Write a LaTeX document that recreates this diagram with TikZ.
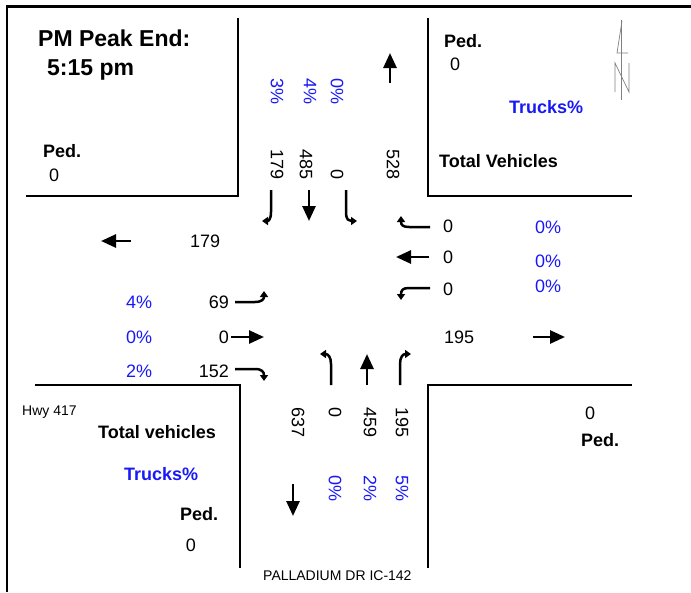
\documentclass[tikz,border=0pt]{standalone}
\usepackage{fontspec}
\setmainfont{Liberation Sans}
\usetikzlibrary{arrows.meta}
\definecolor{tblue}{RGB}{25,25,245}
\begin{document}
\begin{tikzpicture}[x=1pt,y=-1pt,
  t/.style={inner sep=0pt,font=\fontsize{18}{18}\selectfont},
  tb/.style={inner sep=0pt,font=\fontsize{18}{18}\selectfont\bfseries},
  big/.style={inner sep=0pt,font=\fontsize{23}{23}\selectfont\bfseries},
  small/.style={inner sep=0pt,font=\fontsize{14}{14}\selectfont},
  pct/.style={t,text=tblue},
  road/.style={line width=2.7pt},
  arr/.style={line width=2.7pt,-{Triangle[width=13pt,length=15pt]}},
  turn/.style={line width=2.5pt,-{Triangle[width=8pt,length=6pt]}},
  vr/.style={rotate=-90},
  narrow/.style={gray,line width=0.7pt}]
\useasboundingbox (0,0) rectangle (691,592);
% frame
\draw[road] (7,592) -- (7,6.5) -- (691,6.5);
% corners
\draw[road] (238,18) -- (238,196) -- (26,196);
\draw[road] (428,18) -- (428,196) -- (632,196);
\draw[road] (35,385) -- (240,385) -- (240,568);
\draw[road] (632,385) -- (428,385) -- (428,568);
% title
\node[big,anchor=west] (title) at (38,38) {PM Peak End:};
\node[big,anchor=west] (time) at (47,70) {5:15 pm};
\node[tb,anchor=west] (pedNW) at (43,151) {Ped.};
\node[t,anchor=west] (pedNWv) at (49,175) {0};
% NE
\node[tb,anchor=west] (pedNE) at (444,41) {Ped.};
\node[t,anchor=west] (pedNEv) at (450,64) {0};
\node[tb,anchor=west,text=tblue] (trNE) at (509,107) {Trucks\%};
\node[tb,anchor=west] (totNE) at (439,161) {Total Vehicles};
% north arrow
\draw[narrow] (621,20) -- (621,100);
\draw[narrow] (622,21) -- (617,53) -- (628,53);
\draw[narrow] (615,92) -- (615,63) -- (629,92) -- (629,63);
% north approach
\node[pct,vr,anchor=west] (nP1) at (277,78) {3\%};
\node[pct,vr,anchor=west] (nP2) at (310,78) {4\%};
\node[pct,vr,anchor=west] (nP3) at (337,78) {0\%};
\node[t,vr,anchor=east] (nV1) at (277,180) {179};
\node[t,vr,anchor=east] (nV2) at (306,180) {485};
\node[t,vr,anchor=east] (nV3) at (337,180) {0};
\node[t,vr,anchor=east] (nOut) at (393,180) {528};
\draw[arr] (390,83) -- (390,53);
\draw[turn] (271,190) -- (271,212) .. controls (271,220) and (268,221) .. (262,221);
\draw[arr] (309,190) -- (309,221);
\draw[turn] (346,190) -- (346,212) .. controls (346,220) and (349,221) .. (357,221);
% west outbound
\node[t,anchor=west] (wOut) at (190,241) {179};
\draw[arr] (131,241) -- (101,241);
% east approach
\node[t,anchor=west] (eV1) at (443,226) {0};
\node[t,anchor=west] (eV2) at (443,257) {0};
\node[t,anchor=west] (eV3) at (443,289) {0};
\node[pct,anchor=west] (eP1) at (535,227) {0\%};
\node[pct,anchor=west] (eP2) at (535,261) {0\%};
\node[pct,anchor=west] (eP3) at (535,286) {0\%};
\draw[turn] (430,227) -- (409,227) .. controls (403,227) and (401,225) .. (401,216);
\draw[arr] (429,257) -- (396,257);
\draw[turn] (430,288) -- (409,288) .. controls (403,288) and (401,290) .. (401,300);
% west approach
\node[pct,anchor=west] (wP1) at (126,302) {4\%};
\node[pct,anchor=west] (wP2) at (126,337) {0\%};
\node[pct,anchor=west] (wP3) at (126,371) {2\%};
\node[t,anchor=east] (wV1) at (229,302) {69};
\node[t,anchor=east] (wV2) at (229,337) {0};
\node[t,anchor=east] (wV3) at (229,371) {152};
\draw[turn] (235,302) -- (255,302) .. controls (262,302) and (264,299) .. (264,291);
\draw[arr] (231,337) -- (264,337);
\draw[turn] (235,369) -- (255,369) .. controls (262,369) and (264,372) .. (264,381);
% east outbound
\node[t,anchor=west] (eOut) at (444,337) {195};
\draw[arr] (533,337) -- (565,337);
% south approach
\draw[turn] (331,385) -- (331,364) .. controls (331,357) and (328,354) .. (320,354);
\draw[arr] (367,385) -- (367,354);
\draw[turn] (400,385) -- (400,364) .. controls (400,357) and (403,354) .. (411,354);
\node[t,vr,anchor=west] (sV1) at (335,407) {0};
\node[t,vr,anchor=west] (sV2) at (370,407) {459};
\node[t,vr,anchor=west] (sV3) at (402,407) {195};
\node[t,vr,anchor=west] (sOut) at (298,407) {637};
\node[pct,vr,anchor=west] (sP1) at (335,475) {0\%};
\node[pct,vr,anchor=west] (sP2) at (370,475) {2\%};
\node[pct,vr,anchor=west] (sP3) at (402,475) {5\%};
\draw[arr] (293,484) -- (293,516);
% SE
\node[t] (pedSEv) at (590,413) {0};
\node[tb,anchor=west] (pedSE) at (581,440) {Ped.};
% SW
\node[small,anchor=west] (hwy) at (22,412) {Hwy 417};
\node[tb,anchor=west] (totSW) at (98,432) {Total vehicles};
\node[tb,anchor=west,text=tblue] (trSW) at (124,474) {Trucks\%};
\node[tb,anchor=west] (pedSW) at (180,514) {Ped.};
\node[t] (pedSWv) at (191,545) {0};
\node[small,anchor=west] (street) at (263,576) {PALLADIUM DR IC-142};
\end{tikzpicture}
\end{document}
